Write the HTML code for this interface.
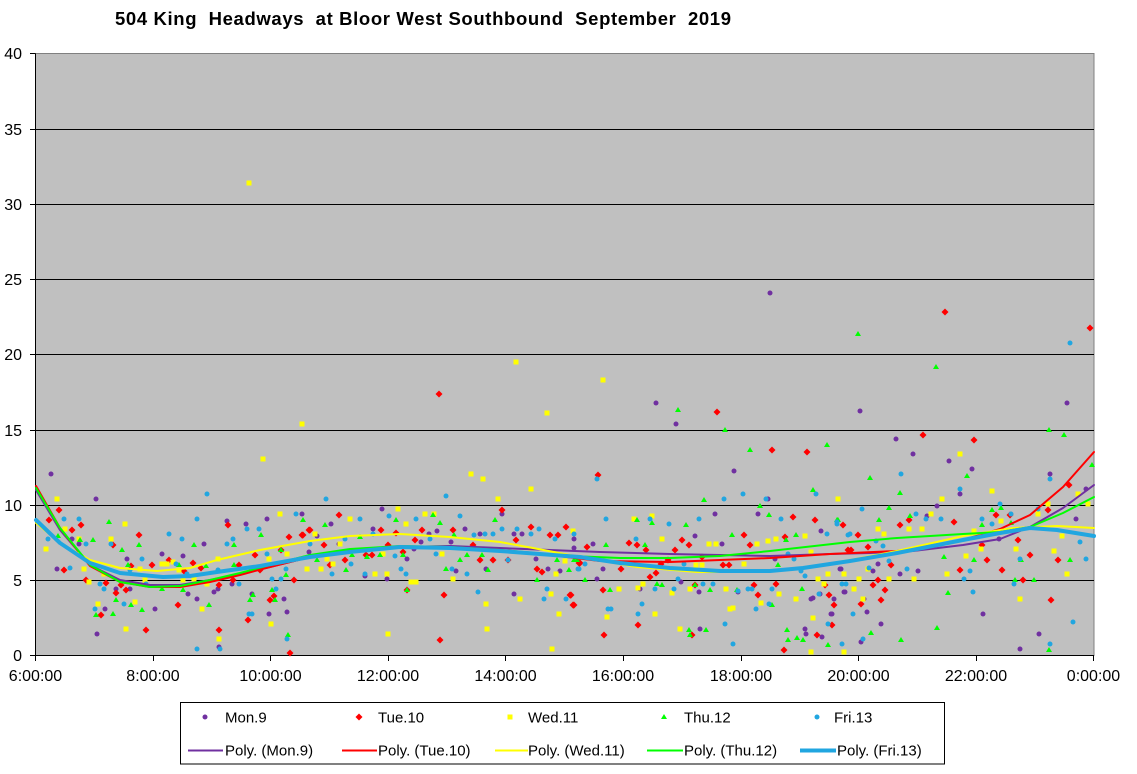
<!DOCTYPE html>
<html><head><meta charset="utf-8"><style>
html,body{margin:0;padding:0;background:#fff;}
svg{display:block;font-family:"Liberation Sans",Arial,sans-serif;}
</style></head><body>
<svg width="1137" height="774" viewBox="0 0 1137 774" xmlns="http://www.w3.org/2000/svg">
<rect x="0" y="0" width="1137" height="774" fill="#fff"/>
<text x="115" y="25" font-size="18.5" font-weight="bold" textLength="616" lengthAdjust="spacing" xml:space="preserve">504 King  Headways  at Bloor West Southbound  September  2019</text>
<!-- plot area -->
<rect x="35.5" y="53.5" width="1058.5" height="602" fill="#C0C0C0" stroke="#808080" stroke-width="1"/>
<g stroke="#000" stroke-width="1">
<line x1="35.5" y1="580.5" x2="1094" y2="580.5"/>
<line x1="35.5" y1="505.5" x2="1094" y2="505.5"/>
<line x1="35.5" y1="430.5" x2="1094" y2="430.5"/>
<line x1="35.5" y1="354.5" x2="1094" y2="354.5"/>
<line x1="35.5" y1="279.5" x2="1094" y2="279.5"/>
<line x1="35.5" y1="204.5" x2="1094" y2="204.5"/>
<line x1="35.5" y1="129.5" x2="1094" y2="129.5"/>
<line x1="35.5" y1="53.5" x2="35.5" y2="655.5"/>
<line x1="30" y1="655.5" x2="1094" y2="655.5"/>
<line x1="30" y1="580.5" x2="35.5" y2="580.5"/>
<line x1="30" y1="505.5" x2="35.5" y2="505.5"/>
<line x1="30" y1="430.5" x2="35.5" y2="430.5"/>
<line x1="30" y1="354.5" x2="35.5" y2="354.5"/>
<line x1="30" y1="279.5" x2="35.5" y2="279.5"/>
<line x1="30" y1="204.5" x2="35.5" y2="204.5"/>
<line x1="30" y1="129.5" x2="35.5" y2="129.5"/>
<line x1="30" y1="53.5" x2="35.5" y2="53.5"/>
<line x1="35.5" y1="655" x2="35.5" y2="661"/>
<line x1="153.5" y1="655" x2="153.5" y2="661"/>
<line x1="270.5" y1="655" x2="270.5" y2="661"/>
<line x1="388.5" y1="655" x2="388.5" y2="661"/>
<line x1="505.5" y1="655" x2="505.5" y2="661"/>
<line x1="623.5" y1="655" x2="623.5" y2="661"/>
<line x1="741.5" y1="655" x2="741.5" y2="661"/>
<line x1="858.5" y1="655" x2="858.5" y2="661"/>
<line x1="976.5" y1="655" x2="976.5" y2="661"/>
<line x1="1093.5" y1="655" x2="1093.5" y2="661"/>
</g>
<g font-size="16" fill="#000" text-anchor="end">
<text x="22" y="661">0</text>
<text x="22" y="586">5</text>
<text x="22" y="511">10</text>
<text x="22" y="436">15</text>
<text x="22" y="360">20</text>
<text x="22" y="285">25</text>
<text x="22" y="210">30</text>
<text x="22" y="135">35</text>
<text x="22" y="59">40</text>
</g>
<g font-size="16" fill="#000" text-anchor="middle">
<text x="35.5" y="681">6:00:00</text>
<text x="153" y="681">8:00:00</text>
<text x="270.5" y="681">10:00:00</text>
<text x="388" y="681">12:00:00</text>
<text x="505.5" y="681">14:00:00</text>
<text x="623" y="681">16:00:00</text>
<text x="741" y="681">18:00:00</text>
<text x="858.5" y="681">20:00:00</text>
<text x="976" y="681">22:00:00</text>
<text x="1093.5" y="681">0:00:00</text>
</g>

<!-- Mon.9 purple circles -->
<g fill="#7030A0">
<circle cx="51" cy="474" r="2.5"/><circle cx="96" cy="499" r="2.5"/><circle cx="57" cy="569" r="2.5"/><circle cx="79" cy="544" r="2.5"/><circle cx="72" cy="539" r="2.5"/><circle cx="127" cy="559" r="2.5"/><circle cx="162" cy="554" r="2.5"/><circle cx="183" cy="556" r="2.5"/><circle cx="204" cy="544" r="2.5"/><circle cx="227" cy="521" r="2.5"/><circle cx="246" cy="524" r="2.5"/><circle cx="267" cy="519" r="2.5"/><circle cx="302" cy="514" r="2.5"/><circle cx="97" cy="634" r="2.5"/><circle cx="105" cy="609" r="2.5"/><circle cx="155" cy="609" r="2.5"/><circle cx="188" cy="594" r="2.5"/><circle cx="197" cy="599" r="2.5"/><circle cx="214" cy="592" r="2.5"/><circle cx="218" cy="589" r="2.5"/><circle cx="232" cy="584" r="2.5"/><circle cx="252" cy="594" r="2.5"/><circle cx="269" cy="614" r="2.5"/><circle cx="284" cy="599" r="2.5"/><circle cx="287" cy="612" r="2.5"/><circle cx="219" cy="647" r="2.5"/><circle cx="130" cy="589" r="2.5"/><circle cx="116" cy="589" r="2.5"/>
<circle cx="309" cy="552" r="2.5"/><circle cx="317" cy="536" r="2.5"/><circle cx="331" cy="524" r="2.5"/><circle cx="382" cy="509" r="2.5"/><circle cx="373" cy="529" r="2.5"/><circle cx="339" cy="544" r="2.5"/><circle cx="365" cy="576" r="2.5"/><circle cx="387" cy="579" r="2.5"/><circle cx="407" cy="559" r="2.5"/><circle cx="414" cy="549" r="2.5"/><circle cx="421" cy="542" r="2.5"/><circle cx="429" cy="534" r="2.5"/><circle cx="437" cy="531" r="2.5"/><circle cx="451" cy="542" r="2.5"/><circle cx="456" cy="571" r="2.5"/><circle cx="465" cy="529" r="2.5"/><circle cx="480" cy="534" r="2.5"/><circle cx="486" cy="569" r="2.5"/><circle cx="502" cy="514" r="2.5"/><circle cx="514" cy="534" r="2.5"/><circle cx="522" cy="534" r="2.5"/><circle cx="514" cy="594" r="2.5"/><circle cx="536" cy="559" r="2.5"/><circle cx="548" cy="569" r="2.5"/><circle cx="560" cy="571" r="2.5"/><circle cx="574" cy="548" r="2.5"/>
<circle cx="656" cy="403" r="2.5"/><circle cx="676" cy="424" r="2.5"/><circle cx="734" cy="471" r="2.5"/><circle cx="768" cy="499" r="2.5"/><circle cx="715" cy="514" r="2.5"/><circle cx="758" cy="514" r="2.5"/><circle cx="695" cy="536" r="2.5"/><circle cx="722" cy="544" r="2.5"/><circle cx="593" cy="544" r="2.5"/><circle cx="574" cy="539" r="2.5"/><circle cx="603" cy="569" r="2.5"/><circle cx="597" cy="579" r="2.5"/><circle cx="640" cy="589" r="2.5"/><circle cx="681" cy="582" r="2.5"/><circle cx="699" cy="592" r="2.5"/><circle cx="700" cy="629" r="2.5"/><circle cx="738" cy="592" r="2.5"/><circle cx="775" cy="559" r="2.5"/><circle cx="811" cy="599" r="2.5"/><circle cx="813" cy="598" r="2.5"/><circle cx="820" cy="594" r="2.5"/><circle cx="834" cy="599" r="2.5"/><circle cx="831" cy="614" r="2.5"/><circle cx="821" cy="531" r="2.5"/><circle cx="845" cy="592" r="2.5"/><circle cx="840" cy="569" r="2.5"/><circle cx="805" cy="629" r="2.5"/><circle cx="806" cy="634" r="2.5"/><circle cx="822" cy="637" r="2.5"/>
<circle cx="860" cy="411" r="2.5"/><circle cx="896" cy="439" r="2.5"/><circle cx="913" cy="454" r="2.5"/><circle cx="949" cy="461" r="2.5"/><circle cx="972" cy="469" r="2.5"/><circle cx="960" cy="494" r="2.5"/><circle cx="937" cy="506" r="2.5"/><circle cx="927" cy="516" r="2.5"/><circle cx="1050" cy="474" r="2.5"/><circle cx="1086" cy="489" r="2.5"/><circle cx="1067" cy="403" r="2.5"/><circle cx="1076" cy="519" r="2.5"/><circle cx="999" cy="539" r="2.5"/><circle cx="878" cy="564" r="2.5"/><circle cx="873" cy="571" r="2.5"/><circle cx="918" cy="571" r="2.5"/><circle cx="900" cy="574" r="2.5"/><circle cx="841" cy="569" r="2.5"/><circle cx="844" cy="592" r="2.5"/><circle cx="864" cy="599" r="2.5"/><circle cx="867" cy="612" r="2.5"/><circle cx="832" cy="614" r="2.5"/><circle cx="881" cy="624" r="2.5"/><circle cx="983" cy="614" r="2.5"/><circle cx="1039" cy="634" r="2.5"/><circle cx="1020" cy="649" r="2.5"/><circle cx="861" cy="642" r="2.5"/><circle cx="770" cy="293" r="2.5"/>
</g>

<!-- Tue.10 red diamonds -->
<path fill="#FF0000" d="
M49 516.5l3.5 3.5-3.5 3.5-3.5-3.5z M59 506.5l3.5 3.5-3.5 3.5-3.5-3.5z M72 526.5l3.5 3.5-3.5 3.5-3.5-3.5z M81 521.5l3.5 3.5-3.5 3.5-3.5-3.5z M64 566.5l3.5 3.5-3.5 3.5-3.5-3.5z M86 576.5l3.5 3.5-3.5 3.5-3.5-3.5z M113 541.5l3.5 3.5-3.5 3.5-3.5-3.5z M139 531.5l3.5 3.5-3.5 3.5-3.5-3.5z M106 579.5l3.5 3.5-3.5 3.5-3.5-3.5z M116 589.5l3.5 3.5-3.5 3.5-3.5-3.5z M126 586.5l3.5 3.5-3.5 3.5-3.5-3.5z M121 581.5l3.5 3.5-3.5 3.5-3.5-3.5z M101 611.5l3.5 3.5-3.5 3.5-3.5-3.5z M146 626.5l3.5 3.5-3.5 3.5-3.5-3.5z M178 601.5l3.5 3.5-3.5 3.5-3.5-3.5z M169 556.5l3.5 3.5-3.5 3.5-3.5-3.5z M193 559.5l3.5 3.5-3.5 3.5-3.5-3.5z M201 564.5l3.5 3.5-3.5 3.5-3.5-3.5z M228 521.5l3.5 3.5-3.5 3.5-3.5-3.5z M219 581.5l3.5 3.5-3.5 3.5-3.5-3.5z M219 626.5l3.5 3.5-3.5 3.5-3.5-3.5z M239 561.5l3.5 3.5-3.5 3.5-3.5-3.5z M233 576.5l3.5 3.5-3.5 3.5-3.5-3.5z M248 616.5l3.5 3.5-3.5 3.5-3.5-3.5z M255 551.5l3.5 3.5-3.5 3.5-3.5-3.5z M260 566.5l3.5 3.5-3.5 3.5-3.5-3.5z M270 596.5l3.5 3.5-3.5 3.5-3.5-3.5z M274 592.5l3.5 3.5-3.5 3.5-3.5-3.5z M281 546.5l3.5 3.5-3.5 3.5-3.5-3.5z M289 533.5l3.5 3.5-3.5 3.5-3.5-3.5z M294 576.5l3.5 3.5-3.5 3.5-3.5-3.5z M302 531.5l3.5 3.5-3.5 3.5-3.5-3.5z M309 526.5l3.5 3.5-3.5 3.5-3.5-3.5z M290 649.5l3.5 3.5-3.5 3.5-3.5-3.5z M131 562.5l3.5 3.5-3.5 3.5-3.5-3.5z M152 561.5l3.5 3.5-3.5 3.5-3.5-3.5z M184 567.5l3.5 3.5-3.5 3.5-3.5-3.5z
M439 390.5l3.5 3.5-3.5 3.5-3.5-3.5z M339 511.5l3.5 3.5-3.5 3.5-3.5-3.5z M310 526.5l3.5 3.5-3.5 3.5-3.5-3.5z M303 531.5l3.5 3.5-3.5 3.5-3.5-3.5z M324 541.5l3.5 3.5-3.5 3.5-3.5-3.5z M345 556.5l3.5 3.5-3.5 3.5-3.5-3.5z M330 561.5l3.5 3.5-3.5 3.5-3.5-3.5z M366 551.5l3.5 3.5-3.5 3.5-3.5-3.5z M372 551.5l3.5 3.5-3.5 3.5-3.5-3.5z M381 526.5l3.5 3.5-3.5 3.5-3.5-3.5z M388 541.5l3.5 3.5-3.5 3.5-3.5-3.5z M396 529.5l3.5 3.5-3.5 3.5-3.5-3.5z M403 548.5l3.5 3.5-3.5 3.5-3.5-3.5z M415 536.5l3.5 3.5-3.5 3.5-3.5-3.5z M422 526.5l3.5 3.5-3.5 3.5-3.5-3.5z M444 591.5l3.5 3.5-3.5 3.5-3.5-3.5z M440 636.5l3.5 3.5-3.5 3.5-3.5-3.5z M453 526.5l3.5 3.5-3.5 3.5-3.5-3.5z M473 541.5l3.5 3.5-3.5 3.5-3.5-3.5z M480 556.5l3.5 3.5-3.5 3.5-3.5-3.5z M493 556.5l3.5 3.5-3.5 3.5-3.5-3.5z M502 506.5l3.5 3.5-3.5 3.5-3.5-3.5z M508 556.5l3.5 3.5-3.5 3.5-3.5-3.5z M516 536.5l3.5 3.5-3.5 3.5-3.5-3.5z M531 523.5l3.5 3.5-3.5 3.5-3.5-3.5z M537 565.5l3.5 3.5-3.5 3.5-3.5-3.5z M542 568.5l3.5 3.5-3.5 3.5-3.5-3.5z M550 531.5l3.5 3.5-3.5 3.5-3.5-3.5z M558 531.5l3.5 3.5-3.5 3.5-3.5-3.5z M566 523.5l3.5 3.5-3.5 3.5-3.5-3.5z M570 591.5l3.5 3.5-3.5 3.5-3.5-3.5z M574 601.5l3.5 3.5-3.5 3.5-3.5-3.5z M579 559.5l3.5 3.5-3.5 3.5-3.5-3.5z M407 586.5l3.5 3.5-3.5 3.5-3.5-3.5z
M598 471.5l3.5 3.5-3.5 3.5-3.5-3.5z M717 408.5l3.5 3.5-3.5 3.5-3.5-3.5z M772 446.5l3.5 3.5-3.5 3.5-3.5-3.5z M807 448.5l3.5 3.5-3.5 3.5-3.5-3.5z M793 513.5l3.5 3.5-3.5 3.5-3.5-3.5z M815 516.5l3.5 3.5-3.5 3.5-3.5-3.5z M843 521.5l3.5 3.5-3.5 3.5-3.5-3.5z M587 543.5l3.5 3.5-3.5 3.5-3.5-3.5z M629 539.5l3.5 3.5-3.5 3.5-3.5-3.5z M637 541.5l3.5 3.5-3.5 3.5-3.5-3.5z M646 546.5l3.5 3.5-3.5 3.5-3.5-3.5z M682 536.5l3.5 3.5-3.5 3.5-3.5-3.5z M689 541.5l3.5 3.5-3.5 3.5-3.5-3.5z M675 546.5l3.5 3.5-3.5 3.5-3.5-3.5z M744 531.5l3.5 3.5-3.5 3.5-3.5-3.5z M750 541.5l3.5 3.5-3.5 3.5-3.5-3.5z M785 533.5l3.5 3.5-3.5 3.5-3.5-3.5z M580 559.5l3.5 3.5-3.5 3.5-3.5-3.5z M621 565.5l3.5 3.5-3.5 3.5-3.5-3.5z M668 556.5l3.5 3.5-3.5 3.5-3.5-3.5z M661 560.5l3.5 3.5-3.5 3.5-3.5-3.5z M656 569.5l3.5 3.5-3.5 3.5-3.5-3.5z M650 573.5l3.5 3.5-3.5 3.5-3.5-3.5z M702 553.5l3.5 3.5-3.5 3.5-3.5-3.5z M723 561.5l3.5 3.5-3.5 3.5-3.5-3.5z M729 561.5l3.5 3.5-3.5 3.5-3.5-3.5z M754 581.5l3.5 3.5-3.5 3.5-3.5-3.5z M776 580.5l3.5 3.5-3.5 3.5-3.5-3.5z M758 591.5l3.5 3.5-3.5 3.5-3.5-3.5z M603 586.5l3.5 3.5-3.5 3.5-3.5-3.5z M571 591.5l3.5 3.5-3.5 3.5-3.5-3.5z M573 601.5l3.5 3.5-3.5 3.5-3.5-3.5z M695 581.5l3.5 3.5-3.5 3.5-3.5-3.5z M638 621.5l3.5 3.5-3.5 3.5-3.5-3.5z M604 631.5l3.5 3.5-3.5 3.5-3.5-3.5z M692 631.5l3.5 3.5-3.5 3.5-3.5-3.5z M784 646.5l3.5 3.5-3.5 3.5-3.5-3.5z M817 631.5l3.5 3.5-3.5 3.5-3.5-3.5z M825 581.5l3.5 3.5-3.5 3.5-3.5-3.5z M829 591.5l3.5 3.5-3.5 3.5-3.5-3.5z M834 601.5l3.5 3.5-3.5 3.5-3.5-3.5z M832 621.5l3.5 3.5-3.5 3.5-3.5-3.5z M848 546.5l3.5 3.5-3.5 3.5-3.5-3.5z
M923 431.5l3.5 3.5-3.5 3.5-3.5-3.5z M974 436.5l3.5 3.5-3.5 3.5-3.5-3.5z M1069 481.5l3.5 3.5-3.5 3.5-3.5-3.5z M900 521.5l3.5 3.5-3.5 3.5-3.5-3.5z M909 516.5l3.5 3.5-3.5 3.5-3.5-3.5z M954 518.5l3.5 3.5-3.5 3.5-3.5-3.5z M996 511.5l3.5 3.5-3.5 3.5-3.5-3.5z M1010 511.5l3.5 3.5-3.5 3.5-3.5-3.5z M1048 506.5l3.5 3.5-3.5 3.5-3.5-3.5z M858 531.5l3.5 3.5-3.5 3.5-3.5-3.5z M851 546.5l3.5 3.5-3.5 3.5-3.5-3.5z M868 543.5l3.5 3.5-3.5 3.5-3.5-3.5z M891 561.5l3.5 3.5-3.5 3.5-3.5-3.5z M878 576.5l3.5 3.5-3.5 3.5-3.5-3.5z M873 581.5l3.5 3.5-3.5 3.5-3.5-3.5z M885 586.5l3.5 3.5-3.5 3.5-3.5-3.5z M881 596.5l3.5 3.5-3.5 3.5-3.5-3.5z M861 600.5l3.5 3.5-3.5 3.5-3.5-3.5z M960 566.5l3.5 3.5-3.5 3.5-3.5-3.5z M987 556.5l3.5 3.5-3.5 3.5-3.5-3.5z M1002 566.5l3.5 3.5-3.5 3.5-3.5-3.5z M1018 536.5l3.5 3.5-3.5 3.5-3.5-3.5z M1030 551.5l3.5 3.5-3.5 3.5-3.5-3.5z M1023 576.5l3.5 3.5-3.5 3.5-3.5-3.5z M1058 556.5l3.5 3.5-3.5 3.5-3.5-3.5z M1051 596.5l3.5 3.5-3.5 3.5-3.5-3.5z M982 541.5l3.5 3.5-3.5 3.5-3.5-3.5z M945 308.5l3.5 3.5-3.5 3.5-3.5-3.5z M1090 324.5l3.5 3.5-3.5 3.5-3.5-3.5z"/>

<!-- Wed.11 yellow squares -->
<path fill="#FFFF00" d="
M54.5 496.5h5v5h-5z M43.5 546.5h5v5h-5z M62.5 526.5h5v5h-5z M76.5 536.5h5v5h-5z M81.5 566.5h5v5h-5z M86.5 579.5h5v5h-5z M101.5 571.5h5v5h-5z M108.5 536.5h5v5h-5z M122.5 521.5h5v5h-5z M95.5 601.5h5v5h-5z M132.5 599.5h5v5h-5z M123.5 626.5h5v5h-5z M159.5 561.5h5v5h-5z M164.5 561.5h5v5h-5z M170.5 559.5h5v5h-5z M176.5 567.5h5v5h-5z M180.5 577.5h5v5h-5z M191.5 576.5h5v5h-5z M204.5 581.5h5v5h-5z M199.5 606.5h5v5h-5z M215.5 556.5h5v5h-5z M216.5 636.5h5v5h-5z M260.5 456.5h5v5h-5z M277.5 511.5h5v5h-5z M266.5 556.5h5v5h-5z M268.5 621.5h5v5h-5z M284.5 551.5h5v5h-5z M299.5 421.5h5v5h-5z M304.5 566.5h5v5h-5z M137.5 566.5h5v5h-5z M142.5 577.5h5v5h-5z
M468.5 471.5h5v5h-5z M480.5 476.5h5v5h-5z M544.5 410.5h5v5h-5z M528.5 486.5h5v5h-5z M495.5 496.5h5v5h-5z M395.5 506.5h5v5h-5z M422.5 511.5h5v5h-5z M431.5 511.5h5v5h-5z M347.5 516.5h5v5h-5z M403.5 521.5h5v5h-5z M312.5 531.5h5v5h-5z M337.5 541.5h5v5h-5z M324.5 556.5h5v5h-5z M330.5 561.5h5v5h-5z M318.5 566.5h5v5h-5z M372.5 571.5h5v5h-5z M384.5 571.5h5v5h-5z M408.5 579.5h5v5h-5z M413.5 579.5h5v5h-5z M450.5 576.5h5v5h-5z M385.5 631.5h5v5h-5z M483.5 601.5h5v5h-5z M484.5 626.5h5v5h-5z M517.5 596.5h5v5h-5z M548.5 591.5h5v5h-5z M556.5 611.5h5v5h-5z M549.5 646.5h5v5h-5z M553.5 571.5h5v5h-5z M562.5 558.5h5v5h-5z M570.5 528.5h5v5h-5z M439.5 551.5h5v5h-5z M380.5 551.5h5v5h-5z
M600.5 377.5h5v5h-5z M631.5 516.5h5v5h-5z M649.5 513.5h5v5h-5z M659.5 536.5h5v5h-5z M706.5 541.5h5v5h-5z M713.5 541.5h5v5h-5z M754.5 541.5h5v5h-5z M765.5 538.5h5v5h-5z M773.5 536.5h5v5h-5z M802.5 533.5h5v5h-5z M835.5 496.5h5v5h-5z M808.5 549.5h5v5h-5z M693.5 562.5h5v5h-5z M699.5 562.5h5v5h-5z M741.5 561.5h5v5h-5z M616.5 586.5h5v5h-5z M635.5 585.5h5v5h-5z M640.5 581.5h5v5h-5z M669.5 590.5h5v5h-5z M687.5 586.5h5v5h-5z M723.5 586.5h5v5h-5z M776.5 591.5h5v5h-5z M758.5 600.5h5v5h-5z M793.5 596.5h5v5h-5z M815.5 576.5h5v5h-5z M821.5 581.5h5v5h-5z M825.5 571.5h5v5h-5z M841.5 571.5h5v5h-5z M727.5 606.5h5v5h-5z M730.5 605.5h5v5h-5z M652.5 611.5h5v5h-5z M604.5 614.5h5v5h-5z M677.5 626.5h5v5h-5z M810.5 615.5h5v5h-5z M808.5 649.5h5v5h-5z M841.5 649.5h5v5h-5z M570.5 528.5h5v5h-5z
M957.5 451.5h5v5h-5z M989.5 488.5h5v5h-5z M939.5 496.5h5v5h-5z M928.5 511.5h5v5h-5z M875.5 526.5h5v5h-5z M881.5 531.5h5v5h-5z M906.5 526.5h5v5h-5z M919.5 526.5h5v5h-5z M971.5 528.5h5v5h-5z M998.5 518.5h5v5h-5z M1035.5 511.5h5v5h-5z M1045.5 501.5h5v5h-5z M1075.5 491.5h5v5h-5z M1085.5 501.5h5v5h-5z M1059.5 533.5h5v5h-5z M1051.5 548.5h5v5h-5z M1013.5 546.5h5v5h-5z M978.5 546.5h5v5h-5z M963.5 553.5h5v5h-5z M944.5 571.5h5v5h-5z M911.5 576.5h5v5h-5z M886.5 576.5h5v5h-5z M856.5 576.5h5v5h-5z M851.5 586.5h5v5h-5z M860.5 596.5h5v5h-5z M1017.5 596.5h5v5h-5z M1064.5 571.5h5v5h-5z M865.5 566.5h5v5h-5z M246.5 180.5h5v5h-5z M513.5 359.5h5v5h-5z"/>

<!-- Thu.12 green triangles -->
<path fill="#00FF00" d="
M58 533l3 5h-6z M93 537l3 5h-6z M109 519l3 5h-6z M80 537l3 5h-6z M122 547l3 5h-6z M139 542l3 5h-6z M128 562l3 5h-6z M116 597l3 5h-6z M131 602l3 5h-6z M113 611l3 5h-6z M96 612l3 5h-6z M142 607l3 5h-6z M162 586l3 5h-6z M179 562l3 5h-6z M183 587l3 5h-6z M194 542l3 5h-6z M209 602l3 5h-6z M206 563l3 5h-6z M234 542l3 5h-6z M253 592l3 5h-6z M250 597l3 5h-6z M261 532l3 5h-6z M272 587l3 5h-6z M275 597l3 5h-6z M286 572l3 5h-6z M288 632l3 5h-6z M281 547l3 5h-6z M303 517l3 5h-6z M234 562l3 5h-6z
M325 522l3 5h-6z M346 567l3 5h-6z M317 557l3 5h-6z M352 552l3 5h-6z M367 554l3 5h-6z M380 552l3 5h-6z M396 517l3 5h-6z M403 552l3 5h-6z M407 587l3 5h-6z M433 512l3 5h-6z M440 520l3 5h-6z M446 566l3 5h-6z M454 532l3 5h-6z M460 557l3 5h-6z M467 552l3 5h-6z M482 552l3 5h-6z M488 567l3 5h-6z M495 517l3 5h-6z M537 577l3 5h-6z M557 557l3 5h-6z M569 567l3 5h-6z M574 557l3 5h-6z M360 534l3 5h-6z
M678 407l3 5h-6z M725 427l3 5h-6z M750 447l3 5h-6z M827 442l3 5h-6z M813 487l3 5h-6z M704 497l3 5h-6z M760 503l3 5h-6z M769 512l3 5h-6z M637 517l3 5h-6z M652 520l3 5h-6z M686 522l3 5h-6z M732 532l3 5h-6z M796 532l3 5h-6z M838 517l3 5h-6z M786 537l3 5h-6z M606 542l3 5h-6z M645 542l3 5h-6z M577 557l3 5h-6z M585 577l3 5h-6z M610 587l3 5h-6z M657 581l3 5h-6z M662 582l3 5h-6z M695 582l3 5h-6z M710 587l3 5h-6z M737 587l3 5h-6z M778 562l3 5h-6z M802 586l3 5h-6z M772 602l3 5h-6z M787 627l3 5h-6z M788 637l3 5h-6z M797 635l3 5h-6z M803 637l3 5h-6z M828 642l3 5h-6z M689 627l3 5h-6z M690 632l3 5h-6z M706 627l3 5h-6z
M1049 427l3 5h-6z M1064 432l3 5h-6z M1092 462l3 5h-6z M870 475l3 5h-6z M900 490l3 5h-6z M967 473l3 5h-6z M889 505l3 5h-6z M910 513l3 5h-6z M879 517l3 5h-6z M837 517l3 5h-6z M982 522l3 5h-6z M992 507l3 5h-6z M1001 505l3 5h-6z M1011 520l3 5h-6z M974 557l3 5h-6z M944 554l3 5h-6z M1021 557l3 5h-6z M1070 557l3 5h-6z M1015 577l3 5h-6z M1034 577l3 5h-6z M948 590l3 5h-6z M937 625l3 5h-6z M871 630l3 5h-6z M901 637l3 5h-6z M1049 647l3 5h-6z M858 331l3 5h-6z M936 364l3 5h-6z"/>

<!-- Fri.13 blue circles -->
<g fill="#21A6E0">
<circle cx="48" cy="539" r="2.5"/><circle cx="64" cy="519" r="2.5"/><circle cx="79" cy="519" r="2.5"/><circle cx="86" cy="544" r="2.5"/><circle cx="70" cy="568" r="2.5"/><circle cx="100" cy="584" r="2.5"/><circle cx="104" cy="589" r="2.5"/><circle cx="95" cy="609" r="2.5"/><circle cx="111" cy="544" r="2.5"/><circle cx="124" cy="604" r="2.5"/><circle cx="142" cy="559" r="2.5"/><circle cx="130" cy="570" r="2.5"/><circle cx="169" cy="534" r="2.5"/><circle cx="182" cy="539" r="2.5"/><circle cx="197" cy="519" r="2.5"/><circle cx="207" cy="494" r="2.5"/><circle cx="176" cy="564" r="2.5"/><circle cx="187" cy="574" r="2.5"/><circle cx="197" cy="649" r="2.5"/><circle cx="218" cy="570" r="2.5"/><circle cx="227" cy="544" r="2.5"/><circle cx="233" cy="539" r="2.5"/><circle cx="247" cy="529" r="2.5"/><circle cx="239" cy="584" r="2.5"/><circle cx="259" cy="529" r="2.5"/><circle cx="267" cy="554" r="2.5"/><circle cx="272" cy="579" r="2.5"/><circle cx="281" cy="579" r="2.5"/><circle cx="276" cy="589" r="2.5"/><circle cx="249" cy="614" r="2.5"/><circle cx="252" cy="614" r="2.5"/><circle cx="286" cy="569" r="2.5"/><circle cx="287" cy="639" r="2.5"/><circle cx="296" cy="514" r="2.5"/><circle cx="220" cy="649" r="2.5"/><circle cx="146" cy="584" r="2.5"/>
<circle cx="326" cy="499" r="2.5"/><circle cx="446" cy="496" r="2.5"/><circle cx="360" cy="519" r="2.5"/><circle cx="389" cy="516" r="2.5"/><circle cx="416" cy="519" r="2.5"/><circle cx="460" cy="516" r="2.5"/><circle cx="310" cy="544" r="2.5"/><circle cx="345" cy="539" r="2.5"/><circle cx="332" cy="574" r="2.5"/><circle cx="351" cy="564" r="2.5"/><circle cx="365" cy="574" r="2.5"/><circle cx="395" cy="556" r="2.5"/><circle cx="401" cy="569" r="2.5"/><circle cx="406" cy="574" r="2.5"/><circle cx="430" cy="539" r="2.5"/><circle cx="436" cy="554" r="2.5"/><circle cx="452" cy="569" r="2.5"/><circle cx="467" cy="574" r="2.5"/><circle cx="474" cy="535" r="2.5"/><circle cx="485" cy="534" r="2.5"/><circle cx="493" cy="534" r="2.5"/><circle cx="502" cy="529" r="2.5"/><circle cx="517" cy="529" r="2.5"/><circle cx="539" cy="529" r="2.5"/><circle cx="531" cy="534" r="2.5"/><circle cx="478" cy="592" r="2.5"/><circle cx="547" cy="589" r="2.5"/><circle cx="544" cy="599" r="2.5"/><circle cx="566" cy="599" r="2.5"/><circle cx="555" cy="539" r="2.5"/><circle cx="578" cy="569" r="2.5"/><circle cx="508" cy="560" r="2.5"/><circle cx="373" cy="534" r="2.5"/>
<circle cx="597" cy="479" r="2.5"/><circle cx="606" cy="519" r="2.5"/><circle cx="650" cy="519" r="2.5"/><circle cx="669" cy="524" r="2.5"/><circle cx="699" cy="519" r="2.5"/><circle cx="724" cy="499" r="2.5"/><circle cx="743" cy="494" r="2.5"/><circle cx="766" cy="499" r="2.5"/><circle cx="781" cy="519" r="2.5"/><circle cx="816" cy="494" r="2.5"/><circle cx="837" cy="522" r="2.5"/><circle cx="827" cy="534" r="2.5"/><circle cx="848" cy="535" r="2.5"/><circle cx="636" cy="539" r="2.5"/><circle cx="574" cy="534" r="2.5"/><circle cx="585" cy="564" r="2.5"/><circle cx="579" cy="569" r="2.5"/><circle cx="684" cy="564" r="2.5"/><circle cx="678" cy="579" r="2.5"/><circle cx="655" cy="589" r="2.5"/><circle cx="674" cy="589" r="2.5"/><circle cx="703" cy="584" r="2.5"/><circle cx="713" cy="584" r="2.5"/><circle cx="748" cy="589" r="2.5"/><circle cx="752" cy="589" r="2.5"/><circle cx="772" cy="589" r="2.5"/><circle cx="769" cy="604" r="2.5"/><circle cx="756" cy="609" r="2.5"/><circle cx="788" cy="554" r="2.5"/><circle cx="794" cy="559" r="2.5"/><circle cx="801" cy="571" r="2.5"/><circle cx="805" cy="576" r="2.5"/><circle cx="819" cy="594" r="2.5"/><circle cx="828" cy="624" r="2.5"/><circle cx="846" cy="584" r="2.5"/><circle cx="642" cy="604" r="2.5"/><circle cx="638" cy="614" r="2.5"/><circle cx="608" cy="609" r="2.5"/><circle cx="611" cy="609" r="2.5"/><circle cx="725" cy="624" r="2.5"/><circle cx="733" cy="644" r="2.5"/><circle cx="738" cy="591" r="2.5"/>
<circle cx="862" cy="509" r="2.5"/><circle cx="901" cy="474" r="2.5"/><circle cx="960" cy="489" r="2.5"/><circle cx="916" cy="514" r="2.5"/><circle cx="926" cy="519" r="2.5"/><circle cx="941" cy="519" r="2.5"/><circle cx="982" cy="519" r="2.5"/><circle cx="992" cy="524" r="2.5"/><circle cx="1000" cy="504" r="2.5"/><circle cx="1011" cy="514" r="2.5"/><circle cx="1038" cy="509" r="2.5"/><circle cx="1050" cy="479" r="2.5"/><circle cx="850" cy="534" r="2.5"/><circle cx="837" cy="524" r="2.5"/><circle cx="876" cy="541" r="2.5"/><circle cx="883" cy="546" r="2.5"/><circle cx="889" cy="561" r="2.5"/><circle cx="869" cy="568" r="2.5"/><circle cx="907" cy="569" r="2.5"/><circle cx="964" cy="579" r="2.5"/><circle cx="970" cy="571" r="2.5"/><circle cx="973" cy="592" r="2.5"/><circle cx="842" cy="584" r="2.5"/><circle cx="853" cy="614" r="2.5"/><circle cx="863" cy="639" r="2.5"/><circle cx="842" cy="644" r="2.5"/><circle cx="1014" cy="584" r="2.5"/><circle cx="1020" cy="559" r="2.5"/><circle cx="1080" cy="542" r="2.5"/><circle cx="1086" cy="559" r="2.5"/><circle cx="1073" cy="622" r="2.5"/><circle cx="1050" cy="644" r="2.5"/><circle cx="1070" cy="343" r="2.5"/>
</g>

<!-- trend lines -->
<g fill="none" stroke-linejoin="round" stroke-linecap="round">
<polyline stroke="#7030A0" stroke-width="2" points="36,490 60,530 90,565 120,580 150,585 180,585 210,580 240,574 270,567 310,557 350,551 400,547 450,546 500,548 550,550 600,552 670,554 720,555 770,556 830,554 870,553 913,551 963,545 1000,539 1030,527 1063,508 1094,485"/>
<polyline stroke="#FF0000" stroke-width="2" points="36,486 60,528 90,566 120,582 150,587 180,587 210,582 240,575 270,567 310,557 350,550 400,547 450,547 500,550 550,555 600,561 670,562 720,560 770,558 830,554 897,551 963,540 1000,529 1030,515 1063,487 1094,452"/>
<polyline stroke="#FFFF00" stroke-width="2" points="36,523 60,543 90,560 120,568 157,571 190,568 217,560 260,550 310,541 350,536 400,534 450,537 500,542 533,548 580,557 637,567 697,572 753,572 790,570 850,560 897,551 963,536 1013,528 1057,526 1094,528"/>
<polyline stroke="#00FF00" stroke-width="2" points="36,488 60,528 90,565 120,582 150,587 180,586 210,580 240,573 270,565 310,555 350,549 400,546 450,547 500,550 570,556 620,558 670,558 720,556 770,551 850,542 897,538 963,534 1000,532 1030,527 1063,513 1094,497"/>
<polyline stroke="#21A6E0" stroke-width="4" points="36,520 60,543 90,563 120,573 163,577 190,576 217,572 260,566 310,557 350,552 400,547 450,548 500,551 580,557 620,563 670,568 720,571 770,571 803,568 830,564 850,561 897,553 963,540 1000,533 1030,528 1057,530 1094,536"/>
</g>

<!-- legend -->
<rect x="180.5" y="702.5" width="764" height="61.5" fill="#fff" stroke="#000" stroke-width="1"/>
<circle cx="205" cy="717" r="2.5" fill="#7030A0"/>
<path fill="#FF0000" d="M359 713.5l3.5 3.5-3.5 3.5-3.5-3.5z"/>
<rect x="507.5" y="714.5" width="5" height="5" fill="#FFFF00"/>
<path fill="#00FF00" d="M664 714l3 5h-6z"/>
<circle cx="817" cy="717" r="2.5" fill="#21A6E0"/>
<line x1="188" y1="750.5" x2="223" y2="750.5" stroke="#7030A0" stroke-width="2"/>
<line x1="342" y1="750.5" x2="377" y2="750.5" stroke="#FF0000" stroke-width="2"/>
<line x1="495" y1="750.5" x2="528" y2="750.5" stroke="#FFFF00" stroke-width="2"/>
<line x1="647" y1="750.5" x2="683" y2="750.5" stroke="#00FF00" stroke-width="2"/>
<line x1="800" y1="750.5" x2="836" y2="750.5" stroke="#21A6E0" stroke-width="4"/>
<g font-size="15" fill="#000">
<text x="225" y="722.5">Mon.9</text>
<text x="378" y="722.5">Tue.10</text>
<text x="528" y="722.5">Wed.11</text>
<text x="684" y="722.5">Thu.12</text>
<text x="834" y="722.5">Fri.13</text>
<text x="225" y="755.5">Poly. (Mon.9)</text>
<text x="378" y="755.5">Poly. (Tue.10)</text>
<text x="528" y="755.5">Poly. (Wed.11)</text>
<text x="684" y="755.5">Poly. (Thu.12)</text>
<text x="837" y="755.5">Poly. (Fri.13)</text>
</g>
</svg>
</body></html>
